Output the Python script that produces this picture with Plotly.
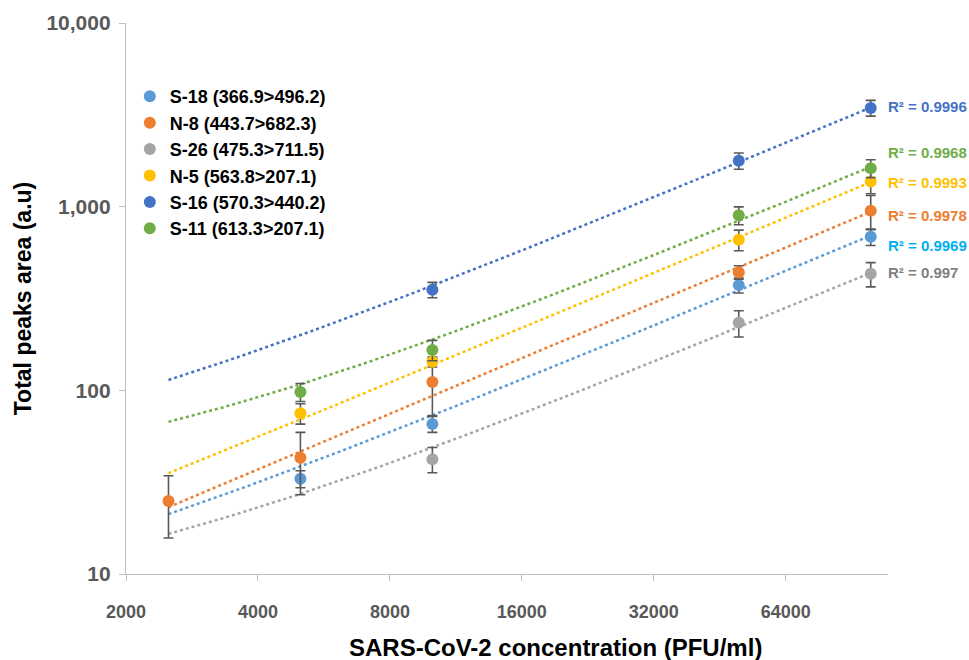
import numpy as np
import plotly.graph_objects as go

# ---- data ----
concentration = [2500, 5000, 10000, 50000, 100000]

series_names = ["S-18 (366.9>496.2)", "N-8 (443.7>682.3)", "S-26 (475.3>711.5)",
                "N-5 (563.8>207.1)", "S-16 (570.3>440.2)", "S-11 (613.3>207.1)"]

s18_area = [None, 33, 65.5, 374, 685]
s18_err = [None, 3.5, 6.5, 35, 70]

n8_area = [25, 43, 111, 440, 950]
n8_err = [9.3, 16, 38, 37, 200]

s26_area = [None, None, 42.2, 233, 431]
s26_err = [None, None, 6.6, 38, 65]

n5_area = [None, 75, 143, 660, 1370]
n5_err = [None, 9.5, 9, 85, 195]

s16_area = [None, None, 353, 1780, 3450]
s16_err = [None, None, 34, 180, 340]

s11_area = [None, 98, 166, 897, 1620]
s11_err = [None, 11, 21, 100, 180]

r_squared = ["R² = 0.9969", "R² = 0.9978", "R² = 0.997", "R² = 0.9993", "R² = 0.9996", "R² = 0.9968"]
label_y = [612, 893, 437, 1352, 3490, 1968]

x_ticks = [2000, 4000, 8000, 16000, 32000, 64000]
x_tick_text = ["2000", "4000", "8000", "16000", "32000", "64000"]
y_ticks = [10, 100, 1000, 10000]
y_tick_text = ["10", "100", "1,000", "10,000"]

colors = ["#5B9BD5", "#ED7D31", "#A5A5A5", "#FFC000", "#4472C4", "#70AD47"]
label_colors = ["#00B0F0", "#ED7D31", "#7F7F7F", "#FFC000", "#4472C4", "#70AD47"]

areas = [s18_area, n8_area, s26_area, n5_area, s16_area, s11_area]
errs = [s18_err, n8_err, s26_err, n5_err, s16_err, s11_err]

fig = go.Figure()

trend_x = np.geomspace(min(concentration), max(concentration), 80)

# trendlines (linear least-squares fits of each series, drawn first)
for name, ys, col in zip(series_names, areas, colors):
    xs = [x for x, y in zip(concentration, ys) if y is not None]
    yv = [y for y in ys if y is not None]
    a, b = np.polyfit(xs, yv, 1)
    fig.add_trace(go.Scatter(x=trend_x, y=a * trend_x + b, mode="lines",
                             line=dict(color=col, width=2.5, dash="dot"),
                             showlegend=False, hoverinfo="skip"))

for name, ys, es, col in zip(series_names, areas, errs, colors):
    xs = [x for x, y in zip(concentration, ys) if y is not None]
    yv = [y for y in ys if y is not None]
    ev = [e for e in es if e is not None]
    fig.add_trace(go.Scatter(x=xs, y=yv, mode="markers", name=name,
                             marker=dict(color=col, size=12),
                             error_y=dict(type="data", array=ev, visible=True,
                                          color="#595959", thickness=1.6, width=5)))

for txt, yy, col in zip(r_squared, label_y, label_colors):
    fig.add_annotation(x=1.0, xref="paper", y=np.log10(yy), yref="y", text=txt,
                       showarrow=False, xanchor="left", yanchor="middle", xshift=-2,
                       font=dict(color=col, size=15, family="Liberation Sans", weight="bold"))

# x-axis title placed as in the reference (right of centre)
fig.add_annotation(x=0.563, xref="paper", y=-0.1325, yref="paper",
                   text="SARS-CoV-2 concentration (PFU/ml)", showarrow=False,
                   xanchor="center", yanchor="middle",
                   font=dict(size=24, color="black", family="Liberation Sans", weight="bold"))

fig.update_layout(
    width=969, height=660,
    margin=dict(l=126, r=81, t=23, b=86),
    plot_bgcolor="white", paper_bgcolor="white",
    font=dict(family="Liberation Sans"),
    legend=dict(x=0.005, y=0.9, xanchor="left", yanchor="top",
                font=dict(size=18, color="black", weight="bold"),
                bgcolor="rgba(0,0,0,0)", tracegroupgap=0, itemwidth=30),
    xaxis=dict(type="log", range=[np.log10(2000), np.log10(109500)],
               tickvals=x_ticks, ticktext=x_tick_text,
               showgrid=False, showline=True, linecolor="#BFBFBF", linewidth=1.3,
               ticks="outside", ticklen=6, tickcolor="#BFBFBF",
               ticklabelstandoff=15,
               tickfont=dict(size=18, color="#595959", weight="bold"),
               zeroline=False),
    yaxis=dict(type="log", range=[1, 4],
               tickvals=y_ticks, ticktext=y_tick_text,
               showgrid=False, showline=True, linecolor="#BFBFBF", linewidth=1.3,
               ticks="outside", ticklen=6, tickcolor="#BFBFBF",
               ticklabelstandoff=4,
               tickfont=dict(size=21, color="#595959", weight="bold"),
               title=dict(text="Total peaks area (a.u)", standoff=8,
                          font=dict(size=23, color="black", weight="bold")),
               zeroline=False),
)

fig.write_html("out.html", config={"displayModeBar": False},
               post_script="document.body.style.margin='0';")
